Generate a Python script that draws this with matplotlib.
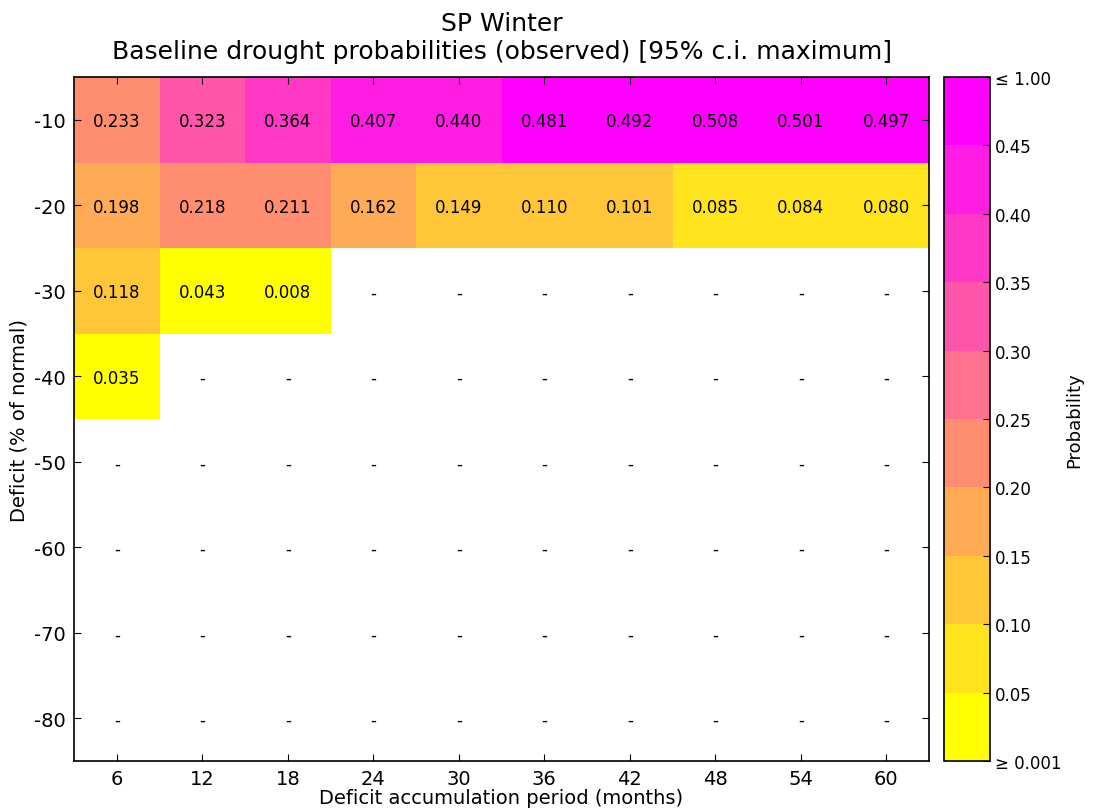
import numpy as np
import matplotlib
matplotlib.use("Agg")
import matplotlib.pyplot as plt
from matplotlib.colors import ListedColormap, BoundaryNorm

plt.rcParams['axes.unicode_minus'] = False

# accumulation periods (months) and deficit levels (% of normal)
periods = [6, 12, 18, 24, 30, 36, 42, 48, 54, 60]
deficits = [-10, -20, -30, -40, -50, -60, -70, -80]

nan = np.nan
row_10 = [0.233, 0.323, 0.364, 0.407, 0.440, 0.481, 0.492, 0.508, 0.501, 0.497]
row_20 = [0.198, 0.218, 0.211, 0.162, 0.149, 0.110, 0.101, 0.085, 0.084, 0.080]
row_30 = [0.118, 0.043, 0.008, nan, nan, nan, nan, nan, nan, nan]
row_40 = [0.035, nan, nan, nan, nan, nan, nan, nan, nan, nan]
row_50 = [nan] * 10
row_60 = [nan] * 10
row_70 = [nan] * 10
row_80 = [nan] * 10

bounds = [0.001, 0.05, 0.10, 0.15, 0.20, 0.25, 0.30, 0.35, 0.40, 0.45, 1.0]
cbar_labels = ['\u2265 0.001', '0.05', '0.10', '0.15', '0.20', '0.25',
               '0.30', '0.35', '0.40', '0.45', '\u2264 1.00']

probs = np.array([row_10, row_20, row_30, row_40, row_50, row_60, row_70, row_80])

base = plt.get_cmap('spring_r')
cmap = ListedColormap([base(i / 9.0) for i in range(10)])
cmap.set_bad('white')
norm = BoundaryNorm(bounds, cmap.N)

fig = plt.figure(figsize=(10.96, 8.12), dpi=100)
ax = fig.add_axes([74 / 1096, 1 - 762 / 812, 855 / 1096, 684 / 812])
cax = fig.add_axes([944 / 1096, 1 - 762 / 812, 46 / 1096, 684 / 812])

x_edges = np.array([p - 3 for p in periods] + [periods[-1] + 3])
y_edges = np.array([d + 5 for d in deficits] + [deficits[-1] - 5])
mesh = ax.pcolormesh(x_edges, y_edges, np.ma.masked_invalid(probs), cmap=cmap, norm=norm)

for i, d in enumerate(deficits):
    for j, p in enumerate(periods):
        v = probs[i, j]
        txt = '-' if np.isnan(v) else '%.3f' % v
        ax.text(p, d - 0.2, txt, ha='center', va='center', fontsize=12)

ax.set_xlim(3, 63)
ax.set_ylim(-85, -5)
ax.set_xticks(periods)
ax.set_yticks(deficits)
ax.tick_params(direction='in', length=5, top=True, right=True, labelsize=14, pad=6)
for s in ax.spines.values():
    s.set_linewidth(1.2)
ax.set_xlabel('Deficit accumulation period (months)', fontsize=14, labelpad=0)
ax.set_ylabel('Deficit (% of normal)', fontsize=14, labelpad=4)
ax.set_title('SP Winter\nBaseline drought probabilities (observed) [95% c.i. maximum]',
             fontsize=18, pad=14)

cb = fig.colorbar(mesh, cax=cax, boundaries=bounds, ticks=bounds, spacing='uniform')
cb.ax.set_yticklabels(cbar_labels)
cb.ax.tick_params(direction='in', length=5, labelsize=12)
cb.set_label('Probability', fontsize=13, labelpad=3)
cb.outline.set_linewidth(1.2)

fig.savefig('out.png', dpi=100)
